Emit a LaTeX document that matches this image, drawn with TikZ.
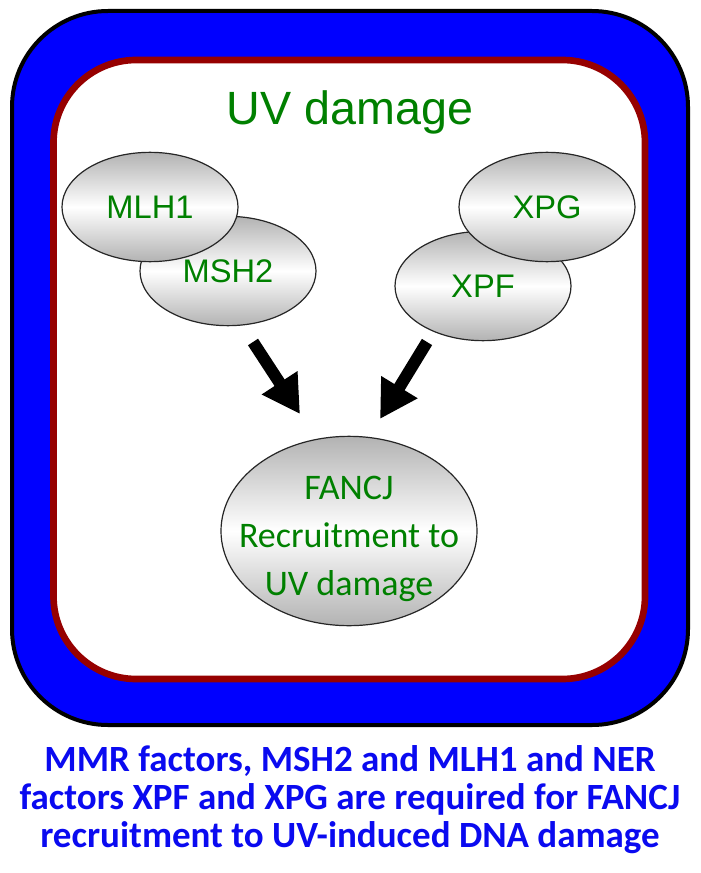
\documentclass[tikz,border=0pt]{standalone}
\usepackage{fontspec}
\usepackage{tikz}
\usetikzlibrary{shapes}
\usetikzlibrary{arrows.meta}
\newfontfamily\arialfont{Liberation Sans}
\newfontfamily\calibrifont{Carlito}
\definecolor{uvgreen}{RGB}{0,128,0}
\definecolor{rimred}{RGB}{150,0,0}
\definecolor{capblue}{RGB}{10,10,240}
\tikzset{
  factor/.style={ellipse, draw=black!85, line width=0.9pt, top color=gray!60, bottom color=gray!60, middle color=white, minimum width=132pt, minimum height=82pt, inner sep=0pt, text=uvgreen, font=\arialfont\fontsize{24.5}{28}\selectfont},
  bigarrow/.style={line width=9pt, -{Triangle[width=30pt,length=28pt]}}
}

\begin{document}
\begin{tikzpicture}[x=0.75pt,y=0.75pt,yscale=-1,xscale=1]
\useasboundingbox (0,0) rectangle (700,873);

%Rounded Rect [id:outer]
\draw [line width=3pt, fill={rgb, 255:red, 0; green, 0; blue, 255 }, rounded corners=72pt] (12,11) rectangle (688,725) ;
%Rounded Rect [id:inner]
\draw [line width=5pt, draw=rimred, fill=white, rounded corners=62pt] (53.5,60) rectangle (645,679) ;

% Text Node
\node [anchor=base, text=uvgreen, font=\arialfont\fontsize{35}{40}\selectfont] (title) at (350,125) {UV damage};

%Shapes (back ones first)
\node [factor] (msh2) at (228,271) {MSH2};
\node [factor] (mlh1) at (150,207) {MLH1};
\node [factor] (xpf) at (483,286) {XPF};
\node [factor] (xpg) at (547,207) {XPG};

%Shape [id:fancj]
\node [factor, minimum width=192pt, minimum height=142pt] (fancj) at (349,531) {};
% Text Node
\node [align=center, text=uvgreen, font=\calibrifont\fontsize{27}{36}\selectfont] (fancjlabel) at (349,539) {FANCJ\\Recruitment to\\UV damage};

%Straight Lines
\coordinate (lefttail) at (253,342);
\coordinate (lefttip) at (300,414);
\coordinate (righttail) at (427,342);
\coordinate (righttip) at (380,419);
\draw [bigarrow] (lefttail) -- (lefttip) ;
\draw [bigarrow] (righttail) -- (righttip) ;

% Text Node
\node [align=center, text=capblue, font=\calibrifont\bfseries\fontsize{27.75}{28.5}\selectfont] (caption) at (350,800) {MMR factors, MSH2 and MLH1 and NER\\factors XPF and XPG are required for FANCJ\\recruitment to UV-induced DNA damage};

\end{tikzpicture}
\end{document}
